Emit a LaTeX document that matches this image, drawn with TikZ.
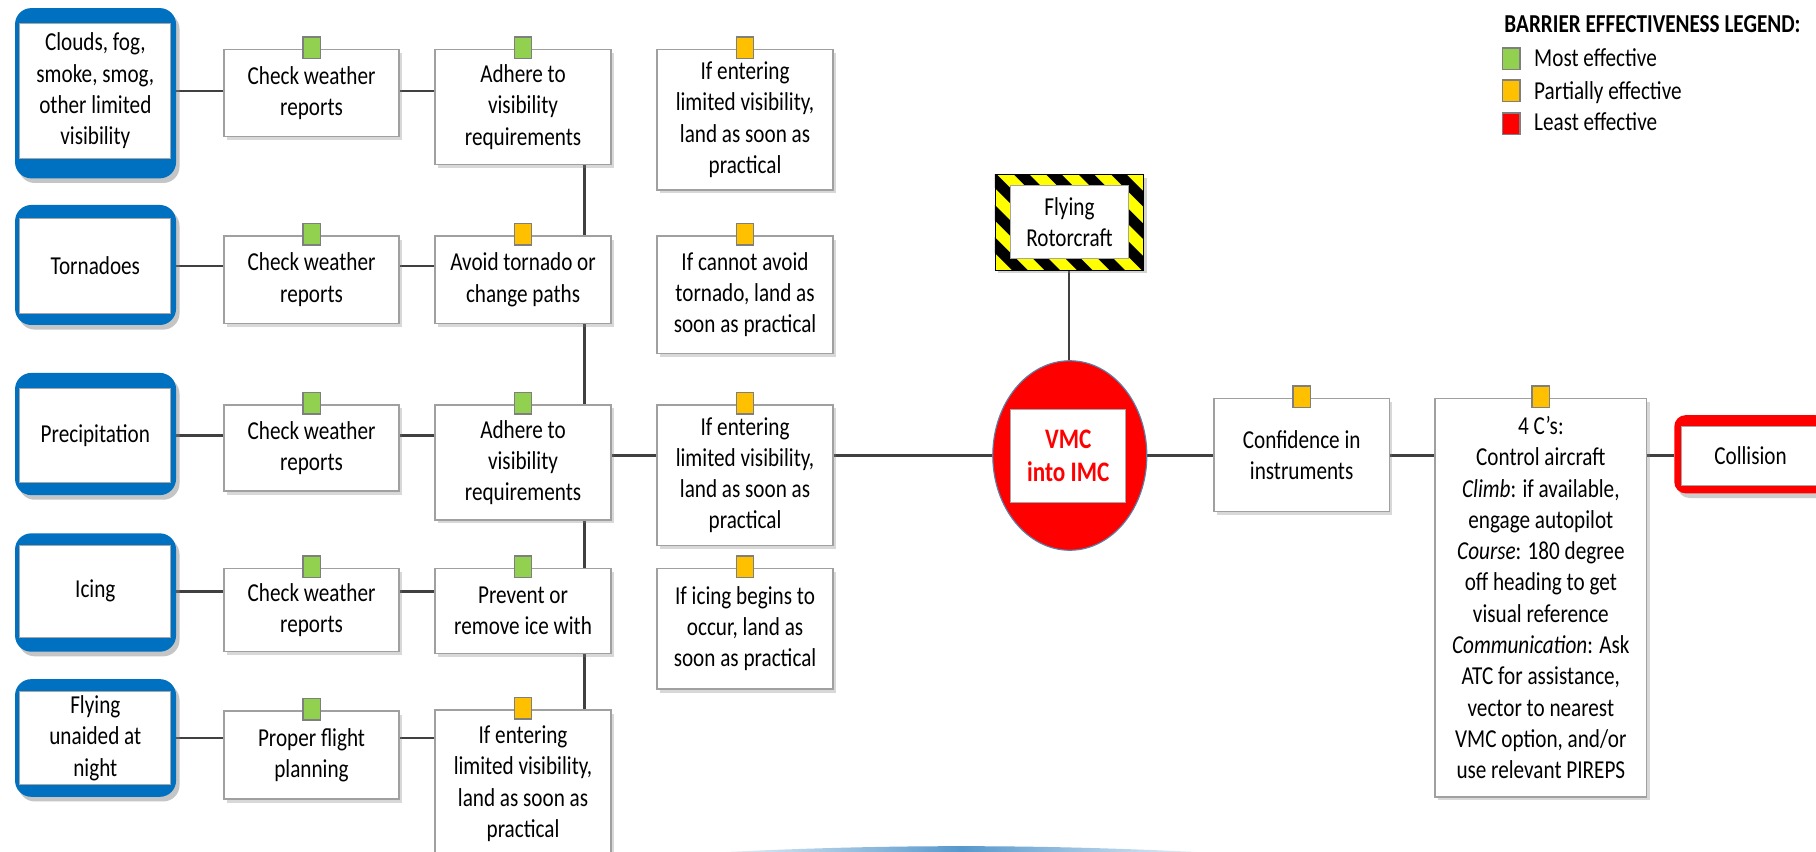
\documentclass[tikz,border=0pt]{standalone}
\usepackage{fontspec}
\setmainfont{Carlito}[FakeStretch=0.82]
\usetikzlibrary{shapes.geometric,shadows,calc}
\pgfdeclarelayer{back}
\pgfsetlayers{back,main}
\definecolor{hazblue}{HTML}{0070C0}
\definecolor{mgreen}{HTML}{92D050}
\definecolor{morange}{HTML}{FFC000}
\definecolor{mred}{HTML}{FF0000}
\definecolor{boxc}{HTML}{A0A0A0}
\definecolor{markc}{HTML}{7F7F7F}
\definecolor{connc}{HTML}{404040}
\definecolor{hazyellow}{HTML}{FFFF00}
\definecolor{vmcedge}{HTML}{5B7FA6}
\definecolor{swc}{HTML}{3A86C4}
\tikzset{
  every node/.style={font=\fontsize{22.3}{27}\selectfont, inner sep=0pt, outer sep=0pt},
  conn/.style={draw=connc, line width=2.2pt},
  barrier/.style={draw=boxc, line width=1.2pt, fill=white, align=center,
    drop shadow={shadow xshift=2.5pt, shadow yshift=-3pt, opacity=0.3}},
  marker/.style={draw=markc, line width=1.2pt, minimum width=15pt, minimum height=18.5pt},
  hazframe/.style={fill=hazblue, rounded corners=14pt, minimum width=139pt,
    drop shadow={shadow xshift=3pt, shadow yshift=-4pt, opacity=0.45}},
  whitein/.style={fill=white, draw=black!35, line width=0.8pt, align=center},
  collframe/.style={fill=mred, rounded corners=10pt,
    drop shadow={shadow xshift=3pt, shadow yshift=-4pt, opacity=0.4}},
  rotframe/.style={fill=hazyellow, draw=black, line width=0.6pt,
    drop shadow={shadow xshift=3pt, shadow yshift=-3pt, opacity=0.35},
    path picture={
      \foreach \k in {-5,...,5}
        \draw[black, line width=9.5pt]
          ($(path picture bounding box.center)+(\k*28-55,-55)$) -- ++(110,110);
    }},
  legtext/.style={anchor=base west},
}
% name, top, bottom, inner top, inner bottom, text
\newcommand\hazbox[6]{%
  \node[hazframe, minimum height={#3-#2}] (#1) at (82.5,{(#2+#3)/2}) {};
  \node[whitein, minimum width=130.5pt, minimum height={#5-#4}] (#1in) at (82.3,{(#4+#5)/2}) {#6};
}
% [width] name, cx, top, bottom, marker colour, text
\newcommand\barbox[7][152]{%
  \node[barrier, minimum width=#1pt, minimum height={#5-#4}] (#2) at (#3,{(#4+#5)/2}) {#7};
  \node[marker, fill=#6] (#2m) at ($(#2.north)+(0,-1.5)$) {};
}
\begin{document}
\begin{tikzpicture}[x=1pt,y=-1pt]
\useasboundingbox (0,0) rectangle (1568,735);

% hazards
\hazbox{h1}{7}{154}{20}{137}{Clouds, fog,\\smoke, smog,\\other limited\\visibility}
\hazbox{h2}{177}{280.6}{188.5}{270.6}{Tornadoes}
\hazbox{h3}{322}{427.5}{335}{416.8}{Precipitation}
\hazbox{h4}{460.5}{562.7}{470.6}{550.4}{Icing}
\hazbox{h5}{586.4}{688}{597.3}{677.3}{Flying\\unaided at\\night}

% barriers, column B
\barbox[151]{c1}{269}{42.6}{118}{mgreen}{Check weather\\reports}
\barbox[151]{c2}{269}{203.8}{279.2}{mgreen}{Check weather\\reports}
\barbox[151]{c3}{269}{349.7}{424}{mgreen}{Check weather\\reports}
\barbox[151]{c4}{269}{490.8}{562.7}{mgreen}{Check weather\\reports}
\barbox[151]{c5}{269}{614}{690}{mgreen}{Proper flight\\planning}

% column C
\barbox{a1}{451.6}{42.6}{142}{mgreen}{Adhere to\\visibility\\requirements}
\barbox{a2}{451.6}{203.8}{279.2}{morange}{Avoid tornado or\\change paths}
\barbox{a3}{451.6}{349.7}{449}{mgreen}{Adhere to\\visibility\\requirements}
\barbox{a4}{451.6}{490.8}{564.2}{mgreen}{Prevent or\\remove ice with}
\barbox{a5}{451.6}{613.1}{740}{morange}{If entering\\limited visibility,\\land as soon as\\practical}

% column D
\barbox{d1}{643.3}{42.6}{164}{morange}{If entering\\limited visibility,\\land as soon as\\practical}
\barbox{d2}{643.3}{203.8}{305}{morange}{If cannot avoid\\tornado, land as\\soon as practical}
\barbox{d3}{643.3}{349.7}{471}{morange}{If entering\\limited visibility,\\land as soon as\\practical}
\barbox{d4}{643.3}{490.8}{595}{morange}{If icing begins to\\occur, land as\\soon as practical}

% flying rotorcraft
\node[rotframe, minimum width=128pt, minimum height=82.7pt] (rot) at (923,191.65) {};
\node[whitein, minimum width=101.2pt, minimum height=62.7pt] (rotin) at (923.4,191.65) {Flying\\Rotorcraft};

% top event
\node[ellipse, fill=mred, draw=vmcedge, line width=1pt, minimum width=133pt, minimum height=163.6pt] (vmc) at (923.7,393.3) {};
\node[whitein, minimum width=99.2pt, minimum height=80.3pt, text=mred,
      font=\fontsize{24.4}{28.7}\selectfont\bfseries] (vmcin) at (922.4,393.65) {VMC\\into IMC};

% right side
\barbox[151.7]{conf}{1123.9}{344}{441.9}{morange}{Confidence in\\instruments}
\barbox[182.8]{fourc}{1330.4}{344}{688}{morange}{4 C’s:\\Control aircraft\\\textit{Climb}: if available,\\engage autopilot\\\textit{Course}: 180 degree\\off heading to get\\visual reference\\\textit{Communication}: Ask\\ATC for assistance,\\vector to nearest\\VMC option, and/or\\use relevant PIREPS}

\node[collframe, minimum width=131.4pt, minimum height=67.6pt] (coll) at (1511.3,392.2) {};
\node[whitein, minimum width=119pt, minimum height=50.3pt] (collin) at (1511.5,393.65) {Collision};

% legend
\node[legtext, font=\fontsize{22.3}{26}\selectfont\bfseries] (legt) at (1299,28) {BARRIER EFFECTIVENESS LEGEND:};
\node[marker, fill=mgreen] (lg1) at (1305,50.6) {};
\node[marker, fill=morange] (lg2) at (1305,78.4) {};
\node[marker, fill=mred] (lg3) at (1305,106.7) {};
\node[legtext] (lt1) at (1324.7,57.2) {Most effective};
\node[legtext] (lt2) at (1324.7,86) {Partially effective};
\node[legtext] (lt3) at (1324.7,113) {Least effective};

% connectors
\begin{pgfonlayer}{back}
  \fill[white] (0,0) rectangle (1568,735);
  \foreach \i in {1,...,5} {
    \draw[conn] (h\i in.center -| h\i.east) -- (h\i in.center -| c\i.west);
    \draw[conn] (h\i in.center -| c\i.east) -- (h\i in.center -| a\i.west);
  }
  \coordinate (spx) at (504.7,0);
  \draw[conn] (spx |- a1.south) -- (spx |- a5.north);
  \coordinate (my) at (0,393.5);
  \draw[conn] (my -| a3.east) -- (my -| coll.west);
  \draw[conn] (rot.south) -- (rot.south |- vmc.north);
  \shade[left color=swc!5, right color=swc!5, middle color=swc, opacity=0.85]
    (600,737) .. controls (760,728.5) and (900,728.5) .. (1060,737) -- cycle;
\end{pgfonlayer}
\end{tikzpicture}
\end{document}
